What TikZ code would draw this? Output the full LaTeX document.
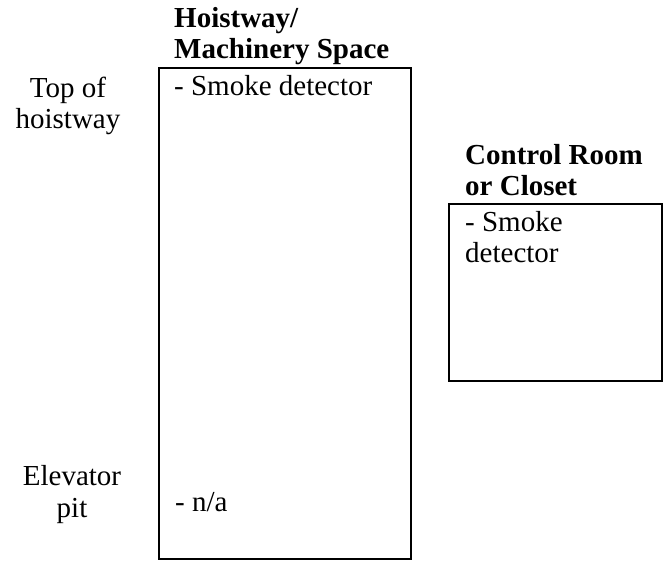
\documentclass[tikz,border=0pt]{standalone}
\usepackage{fontspec}
\setmainfont{Liberation Serif}
\begin{document}
\begin{tikzpicture}[x=1pt,y=-1pt,
  txt/.style={inner sep=0pt,font=\fontsize{29}{31.5}\selectfont},
  lbl/.style={txt,anchor=base west},
  side/.style={txt,anchor=base},
  head/.style={txt,anchor=base west,font=\fontsize{29}{31.5}\selectfont\bfseries},
  room/.style={draw=black,line width=2pt,inner sep=0pt,rectangle}]
\useasboundingbox (0,0) rectangle (669,561);
\node[room,minimum width=252pt,minimum height=491pt] (hoist) at (285,313.5) {};
\node[room,minimum width=213pt,minimum height=177pt] (ctrl) at (555.5,292.5) {};
\node[head] (h1) at (174,28) {Hoistway/};
\node[head] (h2) at (174,59) {Machinery Space};
\node[lbl] (sd1) at (174,96) {- Smoke detector};
\node[side] (t1) at (68,98) {Top of};
\node[side] (t2) at (68,129) {hoistway};
\node[head] (c1) at (465,165) {Control Room};
\node[head] (c2) at (465,196) {or Closet};
\node[lbl] (sd2) at (465,232) {- Smoke};
\node[lbl] (sd3) at (465,263) {detector};
\node[side] (e1) at (72,485) {Elevator};
\node[side] (e2) at (72,517) {pit};
\node[lbl] (na) at (175,511) {- n/a};
\end{tikzpicture}
\end{document}
